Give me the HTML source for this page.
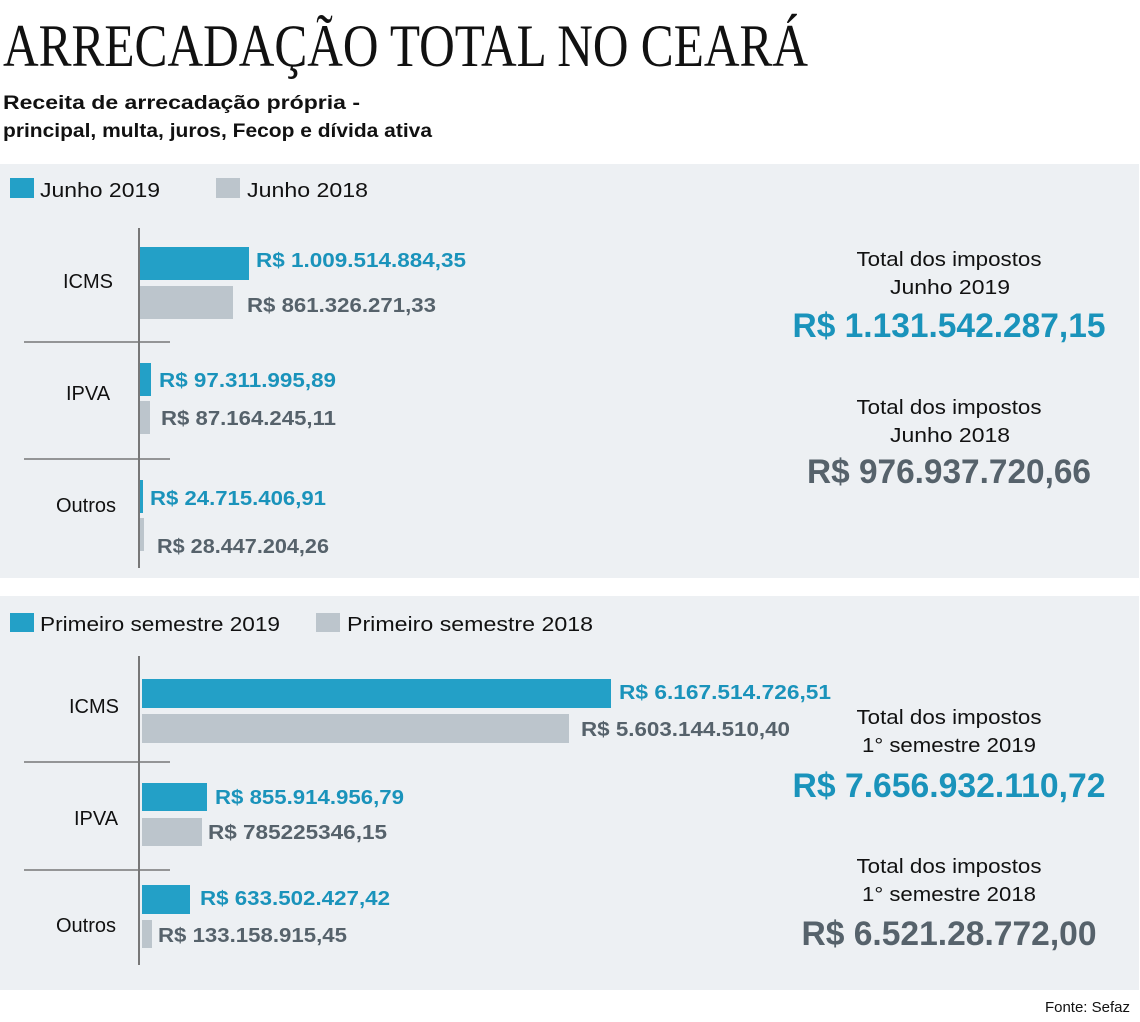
<!DOCTYPE html>
<html><head><meta charset="utf-8"><style>
html,body{margin:0;padding:0;background:#fff;}
svg{display:block;}
text{font-family:"Liberation Sans",sans-serif;}
.v{font-weight:bold;font-size:20px;}
.b{fill:#1a93bb;}
.g{fill:#56626b;}
.c{font-size:20px;fill:#111;}
.t{font-size:20px;fill:#111;text-anchor:middle;}
</style></head><body>
<svg width="1140" height="1022" viewBox="0 0 1140 1022" xmlns="http://www.w3.org/2000/svg">
<rect width="1140" height="1022" fill="#fff"/>
<text x="3" y="66" font-family="Liberation Serif,serif" font-size="60" fill="#111" textLength="805" lengthAdjust="spacingAndGlyphs" style="font-family:'Liberation Serif',serif">ARRECADAÇÃO TOTAL NO CEARÁ</text>
<text x="3" y="109" font-size="19" font-weight="bold" fill="#111" textLength="357" lengthAdjust="spacingAndGlyphs">Receita de arrecadação própria -</text>
<text x="3" y="137" font-size="19" font-weight="bold" fill="#111" textLength="429" lengthAdjust="spacingAndGlyphs">principal, multa, juros, Fecop e dívida ativa</text>

<rect x="0" y="164" width="1139" height="414" fill="#edf0f3"/>
<rect x="0" y="596" width="1139" height="394" fill="#edf0f3"/>

<!-- Panel 1 -->
<rect x="10" y="178" width="24" height="20" fill="#23a0c7"/>
<text x="40" y="197" font-size="20" fill="#111" textLength="120" lengthAdjust="spacingAndGlyphs">Junho  2019</text>
<rect x="216" y="178" width="24" height="20" fill="#bcc5cc"/>
<text x="247" y="197" font-size="20" fill="#111" textLength="121" lengthAdjust="spacingAndGlyphs">Junho  2018</text>
<line x1="139" y1="228" x2="139" y2="568" stroke="#777" stroke-width="2"/>
<line x1="24" y1="342" x2="170" y2="342" stroke="#777" stroke-width="1.5"/>
<line x1="24" y1="459" x2="170" y2="459" stroke="#777" stroke-width="1.5"/>
<text x="88" y="288" class="t">ICMS</text>
<text x="88" y="400" class="t">IPVA</text>
<text x="86" y="512" class="t">Outros</text>
<rect x="140" y="247" width="109" height="33" fill="#23a0c7"/>
<rect x="140" y="286" width="93" height="33" fill="#bcc5cc"/>
<rect x="140" y="363" width="11" height="33" fill="#23a0c7"/>
<rect x="140" y="401" width="10" height="33" fill="#bcc5cc"/>
<rect x="140" y="480" width="3" height="33" fill="#23a0c7"/>
<rect x="140" y="518" width="4" height="33" fill="#bcc5cc"/>
<text x="256" y="267" class="v b" textLength="210" lengthAdjust="spacingAndGlyphs">R$ 1.009.514.884,35</text>
<text x="247" y="312" class="v g" textLength="189" lengthAdjust="spacingAndGlyphs">R$ 861.326.271,33</text>
<text x="159" y="387" class="v b" textLength="177" lengthAdjust="spacingAndGlyphs">R$ 97.311.995,89</text>
<text x="161" y="425" class="v g" textLength="175" lengthAdjust="spacingAndGlyphs">R$ 87.164.245,11</text>
<text x="150" y="505" class="v b" textLength="176" lengthAdjust="spacingAndGlyphs">R$ 24.715.406,91</text>
<text x="157" y="553" class="v g" textLength="172" lengthAdjust="spacingAndGlyphs">R$ 28.447.204,26</text>

<text x="949" y="266" class="t" textLength="185" lengthAdjust="spacingAndGlyphs">Total dos impostos</text>
<text x="950" y="294" class="t" textLength="120" lengthAdjust="spacingAndGlyphs">Junho  2019</text>
<text x="949" y="337" font-size="34" font-weight="bold" fill="#1a93bb" text-anchor="middle" textLength="313" lengthAdjust="spacingAndGlyphs">R$ 1.131.542.287,15</text>
<text x="949" y="414" class="t" textLength="185" lengthAdjust="spacingAndGlyphs">Total dos impostos</text>
<text x="950" y="442" class="t" textLength="120" lengthAdjust="spacingAndGlyphs">Junho  2018</text>
<text x="949" y="483" font-size="34" font-weight="bold" fill="#56626b" text-anchor="middle" textLength="284" lengthAdjust="spacingAndGlyphs">R$ 976.937.720,66</text>

<!-- Panel 2 -->
<rect x="10" y="613" width="24" height="19" fill="#23a0c7"/>
<text x="40" y="631" font-size="20" fill="#111" textLength="240" lengthAdjust="spacingAndGlyphs">Primeiro semestre 2019</text>
<rect x="316" y="613" width="24" height="19" fill="#bcc5cc"/>
<text x="347" y="631" font-size="20" fill="#111" textLength="246" lengthAdjust="spacingAndGlyphs">Primeiro semestre  2018</text>
<line x1="139" y1="656" x2="139" y2="965" stroke="#777" stroke-width="2"/>
<line x1="24" y1="762" x2="170" y2="762" stroke="#777" stroke-width="1.5"/>
<line x1="24" y1="870" x2="170" y2="870" stroke="#777" stroke-width="1.5"/>
<text x="94" y="713" class="t">ICMS</text>
<text x="96" y="825" class="t">IPVA</text>
<text x="86" y="932" class="t">Outros</text>
<rect x="142" y="679" width="469" height="29" fill="#23a0c7"/>
<rect x="142" y="714" width="427" height="29" fill="#bcc5cc"/>
<rect x="142" y="783" width="65" height="28" fill="#23a0c7"/>
<rect x="142" y="818" width="60" height="28" fill="#bcc5cc"/>
<rect x="142" y="885" width="48" height="29" fill="#23a0c7"/>
<rect x="142" y="920" width="10" height="28" fill="#bcc5cc"/>
<text x="619" y="699" class="v b" textLength="212" lengthAdjust="spacingAndGlyphs">R$  6.167.514.726,51</text>
<text x="581" y="736" class="v g" textLength="209" lengthAdjust="spacingAndGlyphs">R$ 5.603.144.510,40</text>
<text x="215" y="804" class="v b" textLength="189" lengthAdjust="spacingAndGlyphs">R$ 855.914.956,79</text>
<text x="208" y="839" class="v g" textLength="179" lengthAdjust="spacingAndGlyphs">R$ 785225346,15</text>
<text x="200" y="905" class="v b" textLength="190" lengthAdjust="spacingAndGlyphs">R$ 633.502.427,42</text>
<text x="158" y="942" class="v g" textLength="189" lengthAdjust="spacingAndGlyphs">R$ 133.158.915,45</text>

<text x="949" y="724" class="t" textLength="185" lengthAdjust="spacingAndGlyphs">Total dos impostos</text>
<text x="949" y="752" class="t" textLength="174" lengthAdjust="spacingAndGlyphs">1° semestre 2019</text>
<text x="949" y="797" font-size="34" font-weight="bold" fill="#1a93bb" text-anchor="middle" textLength="313" lengthAdjust="spacingAndGlyphs">R$ 7.656.932.110,72</text>
<text x="949" y="873" class="t" textLength="185" lengthAdjust="spacingAndGlyphs">Total dos impostos</text>
<text x="949" y="901" class="t" textLength="174" lengthAdjust="spacingAndGlyphs">1° semestre 2018</text>
<text x="949" y="945" font-size="34" font-weight="bold" fill="#56626b" text-anchor="middle" textLength="295" lengthAdjust="spacingAndGlyphs">R$ 6.521.28.772,00</text>

<text x="1130" y="1012" font-size="15" fill="#111" text-anchor="end">Fonte: Sefaz</text>
</svg>
</body></html>
